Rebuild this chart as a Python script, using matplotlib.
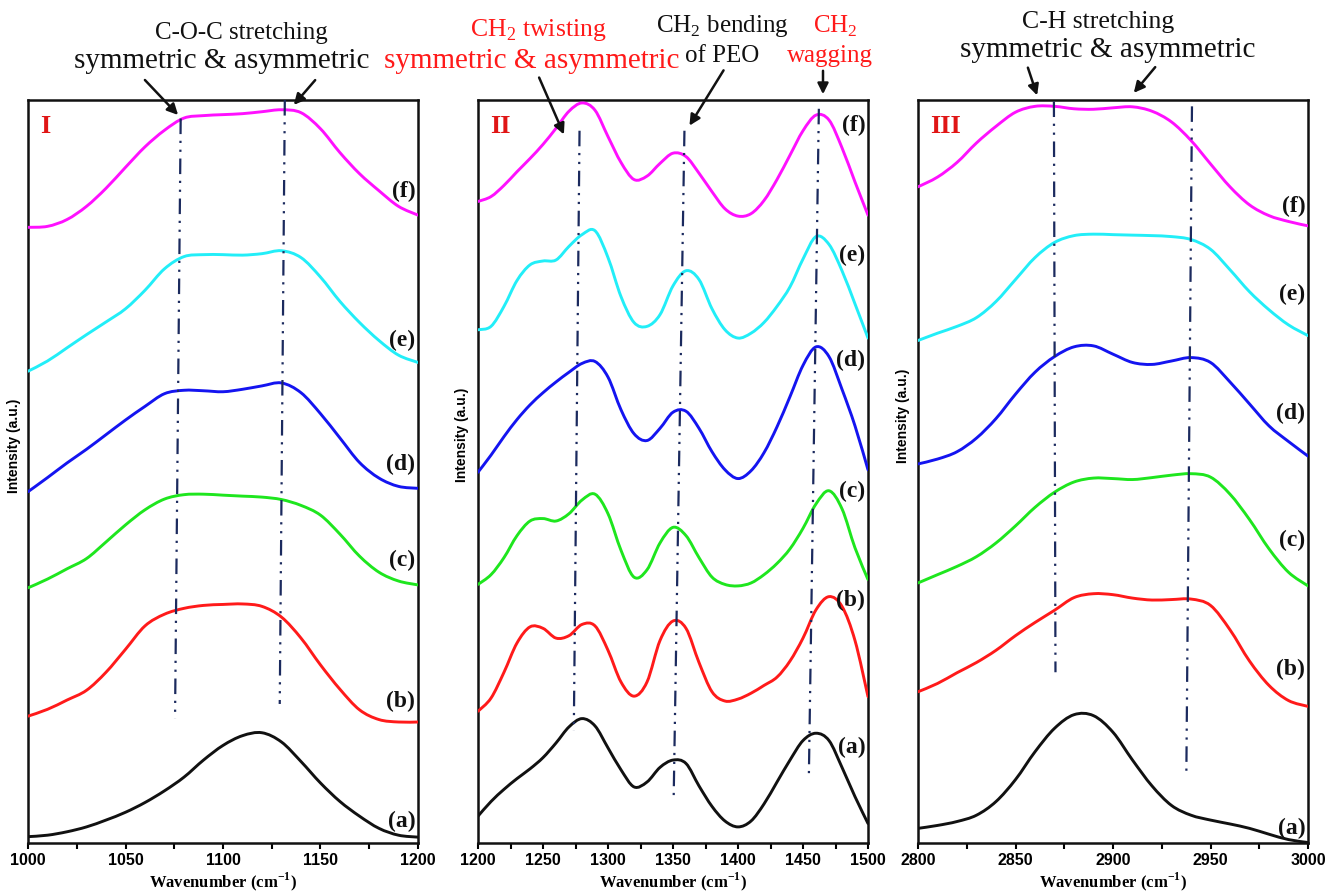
import numpy as np
import matplotlib
matplotlib.use("Agg")
import matplotlib.pyplot as plt
from matplotlib.path import Path
from matplotlib.patches import PathPatch, FancyArrowPatch
import matplotlib.transforms as mtransforms

plt.rcParams['mathtext.fontset'] = 'custom'
plt.rcParams['mathtext.rm'] = 'Liberation Serif'
plt.rcParams['mathtext.bf'] = 'Liberation Serif:bold'
plt.rcParams['axes.unicode_minus'] = False

# ---------------- data (intensity in arbitrary units, offset stacked) ----------------
wn_I = [1000, 1010, 1020, 1030, 1040, 1050, 1060, 1070, 1080, 1090, 1100,
        1110, 1120, 1130, 1140, 1150, 1160, 1170, 1180, 1190, 1200]
I_a = [18, 21, 28, 38, 52, 68, 88, 112, 140, 175, 205, 225, 231, 212, 172, 128, 90, 60, 35, 21, 17]
I_b = [265, 279, 298, 318, 355, 402, 450, 474, 486, 492, 494, 495, 490, 468, 425, 370, 320, 278, 258, 253, 253]
I_c = [528, 546, 567, 588, 622, 657, 688, 710, 719, 720, 718, 716, 714, 709, 697, 677, 638, 593, 560, 542, 534]
I_d = [725, 754, 784, 812, 842, 872, 900, 926, 933, 932, 930, 935, 942, 948, 928, 885, 835, 785, 753, 736, 732]
I_e = [972, 993, 1020, 1047, 1073, 1100, 1138, 1182, 1207, 1211, 1211, 1210, 1213, 1219, 1205, 1165, 1115, 1072, 1035, 1005, 990]
I_f = [1267, 1269, 1283, 1310, 1347, 1390, 1432, 1466, 1491, 1496, 1498, 1500, 1504, 1508, 1502, 1469, 1420, 1377, 1342, 1310, 1292]

wn_II = [1200, 1210, 1220, 1230, 1240, 1250, 1260, 1270, 1280, 1290, 1300,
         1310, 1320, 1330, 1340, 1350, 1360, 1370, 1380, 1390, 1400,
         1410, 1420, 1430, 1440, 1450, 1460, 1470, 1480, 1490, 1500]
II_a = [60, 90, 115, 137, 157, 180, 210, 243, 260, 245, 200, 155, 120, 130, 160, 175, 168, 122, 80, 50, 38,
        50, 85, 130, 175, 215, 230, 215, 160, 100, 45]
II_b = [275, 302, 355, 415, 448, 445, 425, 430, 453, 450, 400, 335, 306, 335, 420, 460, 445, 375, 315, 296, 300,
        312, 328, 345, 378, 425, 483, 510, 490, 420, 305]
II_c = [535, 555, 590, 635, 665, 670, 665, 680, 708, 720, 680, 605, 550, 565, 620, 652, 635, 590, 550, 535, 532,
        538, 555, 578, 608, 650, 700, 727, 690, 610, 545]
II_d = [765, 800, 838, 873, 903, 928, 950, 970, 988, 992, 960, 893, 844, 830, 855, 888, 890, 855, 807, 770, 752,
        768, 805, 858, 920, 984, 1022, 1002, 935, 860, 770]
II_e = [1057, 1064, 1105, 1158, 1190, 1198, 1200, 1228, 1252, 1260, 1205, 1125, 1072, 1064, 1088, 1147, 1178, 1160,
        1100, 1057, 1040, 1050, 1072, 1105, 1145, 1202, 1248, 1232, 1178, 1110, 1040]
II_f = [1320, 1330, 1353, 1381, 1408, 1437, 1470, 1505, 1522, 1507, 1453, 1400, 1365, 1372, 1398, 1419, 1412, 1378,
        1340, 1305, 1290, 1295, 1322, 1365, 1415, 1465, 1497, 1487, 1430, 1360, 1292]

wn_III = [2800, 2810, 2820, 2830, 2840, 2850, 2860, 2870, 2880, 2890, 2900,
          2910, 2920, 2930, 2940, 2950, 2960, 2970, 2980, 2990, 3000]
III_a = [35, 41, 49, 62, 90, 135, 192, 240, 268, 266, 232, 175, 122, 82, 62, 52, 44, 35, 23, 12, 6]
III_b = [315, 332, 354, 375, 400, 430, 457, 482, 508, 516, 514, 507, 503, 504, 505, 492, 442, 378, 328, 297, 285]
III_c = [538, 555, 572, 592, 620, 655, 693, 724, 745, 753, 752, 750, 754, 759, 762, 755, 720, 668, 608, 560, 532]
III_d = [782, 792, 807, 835, 875, 925, 970, 1002, 1022, 1024, 1007, 990, 986, 993, 1000, 990, 950, 905, 860, 828, 798]
III_e = [1035, 1050, 1064, 1082, 1115, 1160, 1205, 1236, 1250, 1253, 1252, 1251, 1250, 1248, 1242, 1222, 1180, 1135,
         1098, 1067, 1045]
III_f = [1350, 1370, 1400, 1440, 1474, 1503, 1515, 1515, 1510, 1509, 1512, 1514, 1505, 1483, 1445, 1397, 1350, 1313,
         1291, 1279, 1270]

sample_labels = ['(a)', '(b)', '(c)', '(d)', '(e)', '(f)']
series_colors = ['#111111', '#ff1a1a', '#1ee61e', '#1414f0', '#22eef8', '#ff10ff']

# marker lines (wavenumber at top, bottom ; intensity top, bottom)
guides_I = [((1078.3, 1075.4), (1490, 260)), ((1131.7, 1129.1), (1528, 290))]
guides_II = [((1278.1, 1273.7), (1465, 235)), ((1358.8, 1350.5), (1465, 95)), ((1462.2, 1454.5), (1510, 140))]
guides_III = [((2869.7, 2870.5), (1525, 355)), ((2940.5, 2937.6), (1515, 140))]

label_y_I = [50, 295, 585, 780, 1035, 1340]
label_y_II = [200, 502, 725, 995, 1210, 1475]
label_y_III = [35, 360, 625, 885, 1130, 1310]

panels = [
    dict(roman='I', x=wn_I, ys=[I_a, I_b, I_c, I_d, I_e, I_f], xlim=(1000, 1200),
         major=[1000, 1050, 1100, 1150, 1200], minor=[1025, 1075, 1125, 1175],
         guides=guides_I, labels_y=label_y_I, left=28, ylab=(-0.018, 0.535)),
    dict(roman='II', x=wn_II, ys=[II_a, II_b, II_c, II_d, II_e, II_f], xlim=(1200, 1500),
         major=[1200, 1250, 1300, 1350, 1400, 1450, 1500], minor=[1225, 1275, 1325, 1375, 1425, 1475],
         guides=guides_II, labels_y=label_y_II, left=478, ylab=(-0.022, 0.55)),
    dict(roman='III', x=wn_III, ys=[III_a, III_b, III_c, III_d, III_e, III_f], xlim=(2800, 3000),
         major=[2800, 2850, 2900, 2950, 3000], minor=[2825, 2875, 2925, 2975],
         guides=guides_III, labels_y=label_y_III, left=918, ylab=(-0.02, 0.575)),
]

W, H = 1325, 894
fig = plt.figure(figsize=(W / 100, H / 100), dpi=100)
fig.patch.set_facecolor('white')


def smooth_curve(ax, xs, ys, color):
    pts = np.column_stack([np.asarray(xs, float), np.asarray(ys, float)])
    n = len(pts)
    verts = [pts[0]]
    codes = [Path.MOVETO]
    for i in range(n - 1):
        p0 = pts[max(i - 1, 0)]
        p1 = pts[i]
        p2 = pts[i + 1]
        p3 = pts[min(i + 2, n - 1)]
        c1 = p1 + (p2 - p0) / 6.0
        c2 = p2 - (p3 - p1) / 6.0
        verts += [c1, c2, p2]
        codes += [Path.CURVE4] * 3
    patch = PathPatch(Path(verts, codes), facecolor='none', edgecolor=color, lw=2.1,
                      capstyle='round', joinstyle='round', zorder=3)
    ax.add_patch(patch)


for p in panels:
    ax = fig.add_axes([p['left'] / W, 1 - 843 / H, 390 / W, 743 / H])
    ax.set_xlim(*p['xlim'])
    ax.set_ylim(5, 1528)
    for ys, col in zip(p['ys'], series_colors):
        smooth_curve(ax, p['x'], ys, col)
    for (xt, xb), (yt, yb) in p['guides']:
        ax.plot([xt, xb], [yt, yb], color='#1b2a5e', lw=1.6,
                dashes=(7, 3, 1, 3, 1, 3), zorder=4)
    trans = mtransforms.blended_transform_factory(ax.transAxes, ax.transData)
    for lab, yy in zip(sample_labels, p['labels_y']):
        ax.text(0.993, yy, lab, transform=trans, ha='right', va='center',
                fontsize=17, fontweight='bold', family='Liberation Serif', color='#111111', zorder=5)
    ax.text(0.03, 0.965, p['roman'], transform=ax.transAxes, ha='left', va='center',
            fontsize=19, fontweight='bold', family='Liberation Serif', color='#e01515')
    ax.set_xticks(p['major'])
    ax.set_xticks(p['minor'], minor=True)
    ax.set_xticklabels([str(v) for v in p['major']], fontsize=11.5, fontweight='bold',
                       family='Liberation Sans')
    ax.tick_params(axis='x', which='major', direction='out', length=4, width=1.5, pad=3)
    ax.tick_params(axis='x', which='minor', direction='out', length=4, width=1.5)
    ax.set_yticks([])
    for sp in ax.spines.values():
        sp.set_linewidth(1.8)
        sp.set_color('#111111')
    ax.set_xlabel('Wavenumber (cm$^{\\mathregular{-1}}$)', fontsize=12, fontweight='bold',
                  family='Liberation Serif', labelpad=2)
    ax.set_ylabel('Intensity (a.u.)', fontsize=10, fontweight='bold', family='Liberation Sans')
    ax.yaxis.set_label_coords(*p['ylab'])


def ftext(x, y, s, size, color='#111111'):
    fig.text(x / W, 1 - y / H, s, ha='center', va='baseline', fontsize=size,
             family='Liberation Serif', color=color)


def farrow(x1, y1, x2, y2):
    arr = FancyArrowPatch((x1 / W, 1 - y1 / H), (x2 / W, 1 - y2 / H), transform=fig.transFigure,
                          arrowstyle='-|>', mutation_scale=16, lw=1.8, color='#111111')
    fig.add_artist(arr)


RED = '#ff1a1a'
# Panel I annotations
ftext(241, 39, 'C-O-C stretching', 18)
ftext(222, 68, 'symmetric & asymmetric', 21)
farrow(143, 78, 180, 117)
farrow(317, 78, 292, 107)
# Panel II annotations
ftext(538, 36, 'CH$_\\mathregular{2}$ twisting', 18.5, RED)
ftext(532, 68, 'symmetric & asymmetric', 21, RED)
ftext(722, 32, 'CH$_\\mathregular{2}$ bending', 18)
ftext(722, 62, 'of PEO', 18)
ftext(835, 33, 'CH$_\\mathregular{2}$', 18, RED)
ftext(830, 62, 'wagging', 18, RED)
farrow(538, 75, 565, 137)
farrow(725, 68, 688, 128)
farrow(823, 68, 823, 97)
# Panel III annotations
ftext(1098, 28, 'C-H stretching', 18.5)
ftext(1108, 57, 'symmetric & asymmetric', 21)
farrow(1027, 65, 1038, 98)
farrow(1157, 65, 1132, 95)

fig.savefig('out.png', dpi=100, facecolor='white')
